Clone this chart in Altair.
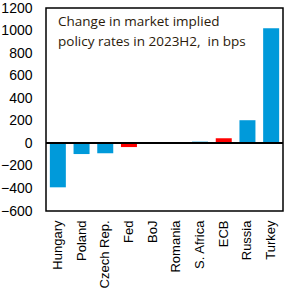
import altair as alt
import pandas as pd

countries = ["Hungary", "Poland", "Czech Rep.", "Fed", "BoJ", "Romania", "S. Africa", "ECB", "Russia", "Turkey"]
values = [-390, -95, -88, -33, 0, 0, 15, 45, 205, 1020]
groups = ["em", "em", "em", "cb", "cb", "em", "em", "cb", "em", "em"]
y_ticks = [-600, -400, -200, 0, 200, 400, 600, 800, 1000, 1200]
title_lines = ["Change in market implied", "policy rates in 2023H2,\u00a0 in bps"]

df = pd.DataFrame({"country": countries, "value": values, "group": groups})

bars = alt.Chart(df).mark_bar(size=16).encode(
    x=alt.X("country:N", sort=countries, scale=alt.Scale(paddingInner=0.32, paddingOuter=0.16),
            axis=alt.Axis(title=None, labelAngle=-90, labelAlign="right", labelBaseline="middle",
                          labelFontSize=13, labelFont="Liberation Sans", labelColor="black",
                          ticks=False, domain=False, labelPadding=9, labelOverlap=False)),
    y=alt.Y("value:Q", scale=alt.Scale(domain=[y_ticks[0], y_ticks[-1]], nice=False),
            axis=alt.Axis(title=None, tickCount=len(y_ticks) - 1, grid=False, ticks=False, domain=False,
                          format="d", labelFontSize=14, labelFont="Liberation Sans", labelColor="black",
                          labelPadding=14, labelOverlap=False, labelSeparation=0)),
    color=alt.Color("group:N", scale=alt.Scale(domain=["em", "cb"], range=["#009ADA", "#FF0000"]), legend=None),
)

zero = alt.Chart(df).mark_rule(color="black", strokeWidth=1.5).encode(y=alt.datum(0))

txt = alt.Chart(pd.DataFrame({"t": [title_lines]})).mark_text(
    align="left", baseline="middle", fontSize=13.5, font="Open Sans", color="#2b1a0a", lineHeight=20
).encode(x=alt.value(12), y=alt.value(14), text="t")

chart = alt.layer(bars, zero, txt).properties(
    width=237, height=203,
    background="white",
    autosize=alt.AutoSizeParams(type="none"),
    padding={"left": 46, "top": 8, "right": 6, "bottom": 77},
).configure_view(stroke="black", strokeWidth=1.5)

chart.save("out.html", embed_options={"renderer": "svg", "actions": False})
